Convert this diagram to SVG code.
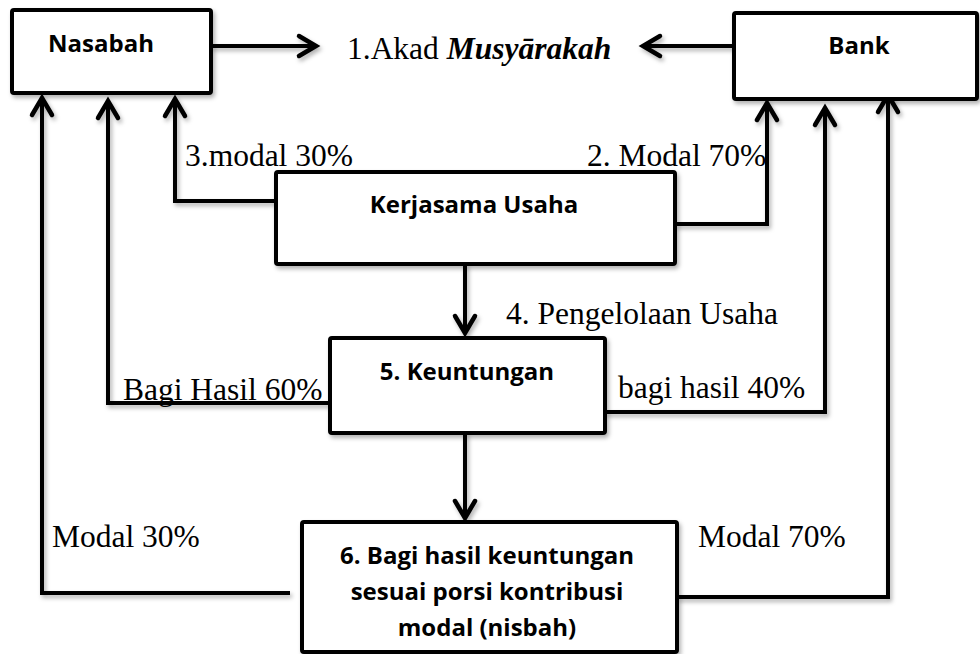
<svg xmlns="http://www.w3.org/2000/svg" width="980" height="654" viewBox="0 0 980 654">
<defs>
<style>
.box{fill:#fff;stroke:#000;stroke-width:4;}
.conn{fill:none;stroke:#000;stroke-width:4;stroke-linejoin:miter;}
.lbl{font-family:"Open Sans","Liberation Sans",sans-serif;font-weight:bold;font-size:24px;fill:#000;text-anchor:middle;}
.ser{font-family:"Liberation Serif","Times New Roman",serif;font-size:31.5px;fill:#000;}
</style>
<marker id="arr" markerUnits="userSpaceOnUse" markerWidth="30" markerHeight="30" refX="0" refY="0" orient="auto" overflow="visible" viewBox="-25 -15 30 30">
<path d="M-17,-10 L0,0 L-17,10" fill="none" stroke="#000" stroke-width="4.5" stroke-linecap="round"/>
</marker>
<filter id="sh" x="-5%" y="-5%" width="115%" height="120%">
<feDropShadow dx="2" dy="3" stdDeviation="2" flood-color="#000" flood-opacity="0.3"/>
</filter>
</defs>
<rect width="980" height="654" fill="#fff"/>
<g id="connectors" filter="url(#sh)">
<line class="conn" x1="211" y1="46" x2="316" y2="46" marker-end="url(#arr)"/>
<line class="conn" x1="734" y1="46" x2="643" y2="46" marker-end="url(#arr)"/>
<path class="conn" d="M276,201 H175 V99" marker-end="url(#arr)"/>
<path class="conn" d="M675,224 H767 V103" marker-end="url(#arr)"/>
<path class="conn" d="M465,264 V333" marker-end="url(#arr)"/>
<path class="conn" d="M330,403 H108 V101" marker-end="url(#arr)"/>
<path class="conn" d="M605,412 H825 V108" marker-end="url(#arr)"/>
<path class="conn" d="M465,433 V518" marker-end="url(#arr)"/>
<path class="conn" d="M290,593 H42 V98" marker-end="url(#arr)"/>
<path class="conn" d="M677,597 H888 V95" marker-end="url(#arr)"/>
</g>
<g id="nasabah">
<rect class="box" x="12" y="10" width="199" height="83" rx="2" filter="url(#sh)"/>
<text class="lbl" x="101" y="52">Nasabah</text>
</g>
<g id="bank">
<rect class="box" x="734" y="13" width="243" height="86" rx="2" filter="url(#sh)"/>
<text class="lbl" x="859" y="54">Bank</text>
</g>
<g id="akad">
<text class="ser" x="347" y="59">1.Akad <tspan font-weight="bold" font-style="italic">Musyārakah</tspan></text>
</g>
<g id="kerjasama">
<rect class="box" x="276" y="172" width="399" height="92" rx="2" filter="url(#sh)"/>
<text class="lbl" x="474" y="213">Kerjasama Usaha</text>
</g>
<g id="keuntungan">
<rect class="box" x="330" y="338" width="275" height="95" rx="2" filter="url(#sh)"/>
<text class="lbl" x="467" y="380">5. Keuntungan</text>
</g>
<g id="bagihasil">
<rect class="box" x="302" y="522" width="375" height="130" rx="2" filter="url(#sh)"/>
<text class="lbl" x="487" y="564">6. Bagi hasil keuntungan</text>
<text class="lbl" x="487" y="600">sesuai porsi kontribusi</text>
<text class="lbl" x="487" y="636">modal (nisbah)</text>
</g>
<g id="labels">
<text class="ser" x="185" y="166">3.modal 30%</text>
<text class="ser" x="587" y="166">2. Modal 70%</text>
<text class="ser" x="506" y="324">4. Pengelolaan Usaha</text>
<text class="ser" x="123" y="400">Bagi Hasil 60%</text>
<text class="ser" x="618" y="398">bagi hasil 40%</text>
<text class="ser" x="52" y="547">Modal 30%</text>
<text class="ser" x="698" y="547">Modal 70%</text>
</g>
</svg>
